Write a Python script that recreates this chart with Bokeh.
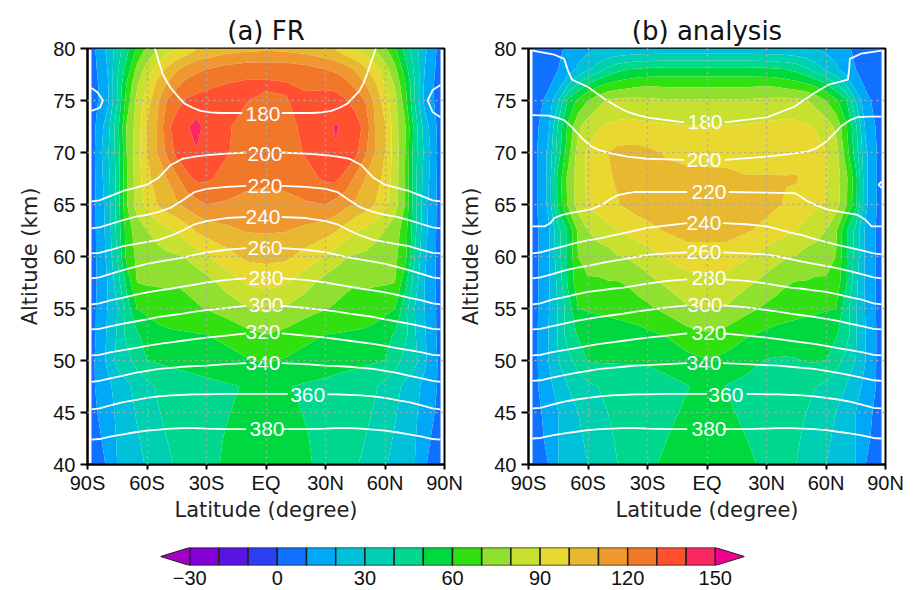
from bokeh.plotting import figure
from bokeh.layouts import column, row
from bokeh.models import FixedTicker, Range1d
from bokeh.embed import file_html
from bokeh.resources import INLINE
from bokeh.core.properties import value
import numpy as np

nan = float("nan")

LEVELS = [-40, -30, -20, -10, 0, 10, 20, 30, 40, 50, 60, 70, 80, 90, 100, 110, 120, 130, 140, 150, 160]
COLORS = ["#A400C4", "#8200D6", "#5A14E2", "#2A40F2", "#1070FF", "#00A8F8", "#00C0DA", "#00D0B2",
          "#00D88E", "#00D840", "#30E010", "#90E030", "#C8E030", "#E8D830", "#E8B830", "#F09830",
          "#F07828", "#FF5030", "#F82860", "#F00090"]

LATS = [-88, -80, -75, -70, -65, -60, -55, -50, -45, -40, -35, -30, -20, -10, 0,
        10, 20, 30, 35, 40, 45, 50, 55, 60, 65, 70, 75, 80, 88]
ALTS = [40, 42.5, 45, 47.5, 50, 52.5, 55, 57.5, 60, 62.5, 65, 67.5, 70, 72.5, 75, 76.5, 78, 80]

FR_WIND = [
    [3, 11, 20, 24, 27, 31, 34, 38, 41, 44, 46, 48, 51, 54, 56, 54, 51, 48, 46, 44, 41, 38, 34, 31, 27, 24, 20, 11, 3],
    [5, 13, 21, 25, 29, 33, 37, 40, 42, 44.5, 46, 47.5, 50.5, 53, 55, 53, 50.5, 47.5, 46, 44.5, 42, 40, 37, 33, 29, 25, 21, 13, 5],
    [7, 15, 22, 26, 31, 35, 39, 42, 44, 45, 46, 47, 49.5, 52, 54, 52, 49.5, 47, 46, 45, 44, 42, 39, 35, 31, 26, 22, 15, 7],
    [8, 17, 24, 28, 33, 37, 41, 43, 45, 46, 47, 48, 49, 50.5, 54, 50.5, 49, 48, 47, 46, 45, 43, 41, 37, 33, 28, 24, 17, 8],
    [7, 22, 33, 37, 44, 50, 51, 52, 52.5, 53, 53.5, 54, 56, 59, 61, 59, 56, 54, 53.5, 53, 52.5, 52, 51, 50, 44, 37, 33, 22, 7],
    [6, 21, 31, 43, 49, 53, 56, 58, 58.5, 59, 59.5, 60, 63, 67, 70, 67, 63, 60, 59.5, 59, 58.5, 58, 56, 53, 49, 43, 31, 21, 6],
    [6, 20, 30, 45, 60, 63, 65, 66, 67, 68, 69, 70.5, 74, 79, 82, 79, 74, 70.5, 69, 68, 67, 66, 65, 63, 60, 45, 30, 20, 6],
    [5, 20, 35, 54, 70, 71, 71, 71.5, 70.5, 71.5, 73.5, 76, 84, 91, 93, 91, 84, 76, 73.5, 71.5, 70.5, 71.5, 71, 71, 70, 54, 35, 20, 5],
    [5, 22, 40, 64, 72, 74, 76, 78, 79, 81, 85, 89.5, 96, 102, 103, 102, 96, 89.5, 85, 81, 79, 78, 76, 74, 72, 64, 40, 22, 5],
    [5, 23, 43, 65, 75, 80, 84, 88, 91, 96, 101, 104, 107.5, 110.5, 111, 110.5, 107.5, 104, 101, 96, 91, 88, 84, 80, 75, 65, 43, 23, 5],
    [5, 24, 44, 70, 84, 93, 100, 105, 108.5, 113, 116.5, 120, 119, 118, 118, 118, 119, 120, 116.5, 113, 108.5, 105, 100, 93, 84, 70, 44, 24, 5],
    [5, 26, 43, 70, 85, 97, 105, 110, 118, 127, 132, 132, 126, 122, 121, 122, 126, 132, 132, 127, 118, 110, 105, 97, 85, 70, 43, 26, 5],
    [5, 28, 44, 71, 85, 100, 110, 122, 133, 137.5, 139.5, 137, 131, 125, 124, 125, 131, 136, 139.3, 137, 133, 122, 110, 100, 85, 71, 44, 28, 5],
    [5, 25, 46, 72, 84, 101, 110, 127, 135, 139, 143, 137, 131.5, 126, 125, 126, 133, 137, 140.8, 138.5, 135, 127, 110, 101, 84, 72, 46, 25, 5],
    [5, 17, 40, 65, 83, 95, 108, 120, 126, 131, 133, 134, 133, 130.5, 127, 129.5, 133, 134, 134, 131, 126, 120, 108, 95, 83, 65, 40, 17, 5],
    [4, 18, 40, 62, 79, 90, 102, 111, 118, 124, 126, 128, 130.5, 132, 132, 131, 128, 128, 127, 124, 118, 111, 102, 90, 79, 62, 40, 18, 4],
    [5, 20, 38, 55, 73, 84, 94, 102, 109, 114, 118, 120, 124, 126, 126, 126, 124, 120, 118, 114, 109, 102, 94, 84, 73, 55, 38, 20, 5],
    [6, 22, 35, 47, 62, 72, 79, 85, 89, 93, 99, 101, 105, 107, 108, 107, 105, 101, 99, 93, 89, 85, 79, 72, 62, 47, 35, 22, 6],
]

ANALYSIS_WIND = [
    [4, 10, 20, 22, 26, 30, 34, 37, 40, 43, 45.5, 48, 52, 55, 56, 55, 52, 48, 45.5, 43, 40, 37, 34, 30, 26, 22, 20, 10, 4],
    [5, 12, 20, 23, 28, 32, 36, 38.5, 41, 43, 45, 47, 50, 53, 54.5, 53, 50, 47, 45, 43, 41, 38.5, 36, 32, 28, 23, 20, 12, 5],
    [6, 13, 20, 24, 30, 34, 38, 40, 42, 43, 44, 45, 48, 51.5, 53, 51.5, 48, 45, 44, 43, 42, 40, 38, 34, 30, 24, 20, 13, 6],
    [6, 17, 24, 30, 34, 38, 40, 42, 43, 44, 45, 46, 47.5, 49.5, 53, 49.5, 47.5, 46, 45, 44, 43, 42, 40, 38, 34, 30, 24, 17, 6],
    [5, 20, 30, 37, 44, 50.5, 51, 51, 51, 51, 51, 51, 53, 57, 59.5, 57, 53, 49.5, 49, 49, 49.5, 50.5, 51, 50, 44, 37, 30, 20, 5],
    [5, 20, 31, 45, 51, 52, 53, 53.5, 54.5, 55.5, 56.5, 58, 61, 66, 69, 66, 61, 58, 56.5, 55.5, 54.5, 53.5, 53, 52, 51, 45, 31, 20, 5],
    [5, 19, 31, 45, 60, 61, 62, 63, 64, 65, 66, 68, 73, 79, 81, 79, 73, 68, 66, 65, 64, 63, 62, 61, 60, 45, 31, 19, 5],
    [5, 18, 33, 52, 66, 69, 68.5, 69.5, 69.5, 71, 74, 77, 82, 86, 87, 86, 82, 77, 74, 71, 69.5, 69.5, 68.5, 69, 66, 52, 33, 18, 5],
    [5, 18, 36, 52, 70, 73, 75, 76, 79.5, 81, 83, 85.5, 91, 95, 95, 95, 91, 85.5, 83, 81, 79.5, 76, 75, 73, 70, 52, 36, 18, 5],
    [5, 18, 37, 52, 72, 80, 84, 87, 90, 92, 95, 97, 101, 104, 104, 104, 101, 97, 95, 92, 90, 87, 84, 80, 72, 52, 37, 18, 5],
    [5, 22, 53, 72, 84, 91, 94, 97, 99.5, 102, 104, 105, 107, 107, 107, 107, 106, 103, 101, 99, 96.5, 94, 91.5, 89.5, 84, 72, 53, 22, 5],
    [5, 22, 54, 73, 85, 92, 96, 99, 101, 103, 104, 104, 103, 102, 102, 102, 100.5, 100.5, 100.5, 100.5, 101, 96, 93, 91, 85, 73, 54, 22, 5],
    [5, 22, 45, 66, 84, 92, 96, 100, 102.5, 103, 103, 102, 99, 98, 97.5, 97, 97, 97, 97, 96, 95, 94, 93, 90.5, 84, 66, 45, 22, 5],
    [5, 18, 42, 62, 78, 85, 89, 91, 92.5, 93, 92.5, 92, 91, 90.5, 90.5, 90.5, 91, 92, 92.5, 93, 92.5, 91, 89, 85, 78, 62, 42, 18, 5],
    [4, 13, 30, 52, 62, 70, 76, 81, 82.5, 83, 82.5, 82, 81, 81, 81, 81, 81, 82, 82.5, 83, 82.5, 81, 76, 70, 62, 52, 30, 13, 4],
    [4, 8.5, 15, 30, 42, 52, 58, 62, 64.5, 66, 68, 69, 68, 68, 68, 68, 68, 69, 68, 66, 64.5, 62, 58, 52, 42, 30, 15, 8.5, 4],
    [4, 7, 10, 15, 22, 28, 35, 42, 47, 50, 51, 52, 53, 53, 53, 53, 53, 52, 51, 50, 47, 42, 35, 28, 22, 15, 10, 7, 4],
    [3, 6, 9, 11, 15, 18, 19, 20, 20.5, 21, 21.5, 22, 22, 22, 22, 22, 22, 22, 21.5, 21, 20.5, 20, 19, 18, 15, 11, 9, 6, 3],
]

# White temperature contours, (latitude, altitude); nan marks the gap for the label
ISO_LATS = [-88, -84, -78, -72, -66, -60, -54, -48, -42, -36, -30, -20, -10, nan,
            8, 20, 30, 36, 42, 48, 54, 60, 66, 72, 78, 84, 88]

FR_380 = [42.4, 42.45, 42.7, 42.9, 43.1, 43.25, 43.35, 43.45, 43.5, 43.5, 43.45, 43.4, 43.4, nan,
          43.4, 43.4, 43.45, 43.5, 43.5, 43.45, 43.35, 43.25, 43.1, 42.9, 42.7, 42.45, 42.4]
FR_340 = [47.95, 48.05, 48.3, 48.55, 48.8, 49.0, 49.2, 49.3, 49.4, 49.45, 49.5, 49.65, 49.75, nan,
          49.75, 49.65, 49.5, 49.45, 49.4, 49.3, 49.2, 49.0, 48.8, 48.55, 48.3, 48.05, 47.95]
FR_320 = [50.5, 50.55, 50.8, 51.0, 51.2, 51.4, 51.6, 51.75, 51.9, 52.05, 52.2, 52.4, 52.6, nan,
          52.6, 52.4, 52.2, 52.05, 51.9, 51.75, 51.6, 51.4, 51.2, 51.0, 50.8, 50.55, 50.5]
FR_300 = [53.0, 53.05, 53.3, 53.55, 53.75, 53.95, 54.2, 54.35, 54.5, 54.7, 54.85, 55.05, 55.25, nan,
          55.25, 55.05, 54.85, 54.7, 54.5, 54.35, 54.2, 53.95, 53.75, 53.55, 53.3, 53.05, 53.0]
FR_280 = [55.4, 55.5, 55.8, 56.05, 56.3, 56.55, 56.75, 56.9, 57.1, 57.3, 57.5, 57.75, 57.9, nan,
          57.9, 57.75, 57.5, 57.3, 57.1, 56.9, 56.75, 56.55, 56.3, 56.05, 55.8, 55.5, 55.4]
FR_260 = [57.9, 58.0, 58.35, 58.7, 59.0, 59.3, 59.5, 59.7, 59.9, 60.15, 60.4, 60.65, 60.8, nan,
          60.8, 60.65, 60.4, 60.15, 59.9, 59.7, 59.5, 59.3, 59.0, 58.7, 58.35, 58.0, 57.9]
FR_240 = [60.3, 60.35, 60.65, 61.0, 61.2, 61.4, 61.6, 62.0, 62.5, 63.1, 63.4, 63.7, 63.8, nan,
          63.8, 63.7, 63.4, 63.1, 62.5, 62.0, 61.6, 61.4, 61.2, 61.0, 60.65, 60.35, 60.3]
FR_220 = [62.7, 62.8, 63.15, 63.5, 63.8, 64.0, 64.3, 64.7, 65.4, 66.2, 66.5, 66.7, 66.8, nan,
          66.8, 66.7, 66.5, 66.2, 65.4, 64.7, 64.3, 64.0, 63.8, 63.5, 63.15, 62.8, 62.7]
FR_200 = [65.3, 65.4, 65.85, 66.3, 66.6, 66.9, 67.6, 68.8, 69.4, 69.6, 69.75, 69.9, 70.0, nan,
          70.0, 69.9, 69.75, 69.6, 69.4, 68.8, 67.6, 66.9, 66.6, 66.3, 65.85, 65.4, 65.3]

ISO360_FR_LATS = [-88, -84, -78, -72, -66, -60, -54, -48, -42, -36, -30, -20, -10, 0, 11, nan,
                  31, 36, 42, 48, 54, 60, 66, 72, 78, 84, 88]
FR_360 = [45.3, 45.4, 45.7, 46.0, 46.2, 46.4, 46.55, 46.65, 46.7, 46.75, 46.75, 46.8, 46.8, 46.8, 46.8, nan,
          46.75, 46.75, 46.7, 46.65, 46.55, 46.4, 46.2, 46.0, 45.7, 45.4, 45.3]

ISO180_FR_LATS = [-56, -54, -52, -50, -48, -44, -41, -37, -33, -28, -23, -12, nan,
                  8, 23, 28, 33, 37, 41, 44, 47, 49, 51, 53, 55.4]
FR_180 = [80, 78.7, 77.5, 76.8, 76.2, 75.3, 74.7, 74.3, 74.0, 73.85, 73.8, 73.8, nan,
          73.8, 73.8, 73.85, 74.0, 74.3, 74.7, 75.3, 75.9, 76.6, 77.6, 78.7, 80]

RING_L_LATS = [-88, -85, -82.2, -83.8, -88]
RING_L_ALTS = [76.2, 75.8, 75.0, 74.3, 74.0]
RING_R_LATS = [88, 84, 81.5, 84, 88]
RING_R_ALTS = [76.5, 76.0, 75.0, 73.9, 73.4]

AN_380 = [42.5, 42.55, 42.8, 43.0, 43.15, 43.3, 43.4, 43.45, 43.5, 43.5, 43.45, 43.4, 43.4, nan,
          43.4, 43.4, 43.45, 43.5, 43.5, 43.45, 43.4, 43.3, 43.15, 43.0, 42.8, 42.55, 42.5]
AN_340 = [48.05, 48.1, 48.35, 48.6, 48.8, 49.0, 49.2, 49.3, 49.4, 49.5, 49.55, 49.65, 49.75, nan,
          49.75, 49.65, 49.55, 49.5, 49.4, 49.3, 49.2, 49.0, 48.8, 48.6, 48.35, 48.1, 48.05]
AN_320 = [50.5, 50.55, 50.8, 51.0, 51.2, 51.4, 51.6, 51.75, 51.9, 52.05, 52.2, 52.4, 52.6, nan,
          52.6, 52.4, 52.2, 52.05, 51.9, 51.75, 51.6, 51.4, 51.2, 51.0, 50.8, 50.55, 50.5]
AN_300 = [53.0, 53.05, 53.3, 53.55, 53.8, 54.0, 54.2, 54.35, 54.5, 54.7, 54.85, 55.1, 55.3, nan,
          55.3, 55.1, 54.85, 54.7, 54.5, 54.35, 54.2, 54.0, 53.8, 53.55, 53.3, 53.05, 53.0]
AN_280 = [55.4, 55.5, 55.85, 56.1, 56.35, 56.6, 56.75, 56.9, 57.0, 57.2, 57.4, 57.65, 57.8, nan,
          57.8, 57.65, 57.4, 57.2, 57.0, 56.9, 56.75, 56.6, 56.35, 56.1, 55.85, 55.5, 55.4]
AN_260 = [57.9, 58.0, 58.3, 58.65, 58.9, 59.1, 59.35, 59.55, 59.75, 59.95, 60.15, 60.3, 60.4, nan,
          60.4, 60.3, 60.2, 60.0, 59.75, 59.5, 59.3, 59.1, 58.85, 58.6, 58.3, 58.0, 57.9]
AN_240 = [60.3, 60.4, 60.7, 61.0, 61.3, 61.55, 61.75, 62.0, 62.25, 62.5, 62.75, 63.0, 63.2, nan,
          63.2, 63.1, 62.9, 62.6, 62.3, 62.05, 61.7, 61.4, 61.1, 60.85, 60.6, 60.3, 60.2]

ISO220_AN_LATS = [-88, -82, -79, -77, -73, -68.5, -59, -55, -52, -48, -45, -40, -36.6, -10, nan,
                  11, 44, 47, 50, 54, 61, 70, 76, 80, 83, 88]
AN_220 = [62.9, 62.9, 63.2, 63.7, 64.0, 64.2, 64.5, 64.8, 65.1, 65.6, 65.9, 66.1, 66.2, 66.2, nan,
          66.2, 66.1, 65.8, 65.4, 65.0, 64.5, 64.2, 64.0, 63.5, 62.9, 62.9]
ISO200_AN_LATS = [-88, -80, -75, -72, -69, -65, -62, -58.5, -54, -48, -40, -30, -11.5, nan,
                  9, 30.5, 45, 51, 55, 59, 63, 67.5, 72, 76, 82, 88]
AN_200 = [73.6, 73.55, 73.3, 73.1, 72.6, 71.8, 71.2, 70.6, 70.2, 69.9, 69.6, 69.4, 69.3, nan,
          69.3, 69.6, 69.95, 70.1, 70.4, 70.9, 71.6, 72.5, 73.1, 73.4, 73.45, 73.45]
ISO180_AN_LATS = [-88, -77, -72, -71, -70, -68, -60, -52, -46, -40, -34, -28, -11.5, nan,
                  9, 30.5, 44, 54, 61, 71, 71.7, 72, 77.6, 88]
AN_180 = [79.8, 79.4, 79.0, 78.4, 77.8, 77.0, 76.3, 75.2, 74.5, 73.9, 73.55, 73.3, 72.9, nan,
          72.9, 73.4, 74.4, 75.7, 76.5, 77.0, 78.0, 79.0, 79.5, 79.8]

ISO360_AN_LATS = [-88, -84, -78, -72, -66, -60, -54, -48, -42, -36, -30, -20, -10, 0, nan,
                  20, 30, 36, 42, 48, 54, 60, 66, 72, 78, 84, 88]
AN_360 = [45.4, 45.45, 45.75, 46.05, 46.25, 46.4, 46.55, 46.65, 46.7, 46.75, 46.75, 46.8, 46.8, 46.8, nan,
          46.8, 46.75, 46.75, 46.7, 46.65, 46.55, 46.4, 46.25, 46.05, 45.75, 45.45, 45.4]

SPOT_LATS = [88, 86.5, 88]
SPOT_ALTS = [67.2, 66.9, 66.6]

FR_LABELS = ["180", "200", "220", "240", "260", "280", "300", "320", "340", "360", "380"]
FR_LAB_LAT = [-1.5, -0.5, -0.5, -1.5, -0.5, 0, 0, -1.5, -1.5, 21, 0.5]
FR_LAB_ALT = [73.7, 69.9, 66.8, 63.8, 60.8, 57.9, 55.3, 52.7, 49.8, 46.7, 43.4]
AN_LABELS = FR_LABELS
AN_LAB_LAT = [-1, -1.5, 1, -1.5, -1.5, 1, -1, 1, -1.5, 9.5, 1]
AN_LAB_ALT = [72.9, 69.3, 66.2, 63.2, 60.4, 57.9, 55.3, 52.6, 49.8, 46.7, 43.4]

LAT_TICKS = [-90, -60, -30, 0, 30, 60, 90]
LAT_LABELS = ["90S", "60S", "30S", "EQ", "30N", "60N", "90N"]
ALT_TICKS = [40, 45, 50, 55, 60, 65, 70, 75, 80]
BAR_TICKS = [-30, 0, 30, 60, 90, 120, 150]
BAR_LABELS = ["\u221230", "0", "30", "60", "90", "120", "150"]

TICK_FONT = "Liberation Sans"
LABEL_FONT = "DejaVu Sans"


def panel(title, wind, lines, lab_lat, lab_alt, labels, border_left, border_right):
    p = figure(width=border_left + 357 + border_right, height=524, output_backend="svg",
               toolbar_location=None, x_range=Range1d(-90, 90), y_range=Range1d(40, 80),
               min_border_left=border_left, min_border_right=border_right,
               min_border_top=48, min_border_bottom=60, title=title)
    p.border_fill_color = None
    p.background_fill_color = "white"
    p.title.text_font = LABEL_FONT
    p.title.text_font_size = "26px"
    p.title.text_font_style = "normal"
    p.title.align = "center"
    p.title.text_color = "#111111"
    p.title.standoff = 6
    p.contour(LATS, ALTS, np.array(wind, dtype=float), LEVELS, fill_color=COLORS)
    for lat, alt in lines:
        p.line(lat, alt, line_color="white", line_width=1.8)
    p.text(lab_lat, lab_alt, text=labels, text_color="white", text_align="center",
           text_baseline="middle", text_font=value(TICK_FONT), text_font_size="21px")
    p.xaxis.ticker = FixedTicker(ticks=LAT_TICKS)
    p.xaxis.major_label_overrides = dict(zip(LAT_TICKS, LAT_LABELS))
    p.yaxis.ticker = FixedTicker(ticks=ALT_TICKS)
    p.xaxis.axis_label = "Latitude (degree)"
    p.yaxis.axis_label = "Altitude (km)"
    for ax in (p.xaxis[0], p.yaxis[0]):
        ax.axis_label_text_font = LABEL_FONT
        ax.axis_label_text_font_size = "21px"
        ax.axis_label_text_font_style = "normal"
        ax.axis_label_text_color = "#222222"
        ax.major_label_text_font = TICK_FONT
        ax.major_label_text_font_size = "20px"
        ax.major_label_text_color = "#111111"
        ax.major_tick_out = 7
        ax.major_tick_in = 0
        ax.minor_tick_out = 0
        ax.minor_tick_in = 0
        ax.major_tick_line_color = "black"
        ax.major_tick_line_width = 2
        ax.axis_line_color = "black"
        ax.axis_line_width = 2
    p.xaxis.major_tick_out = 5
    p.xaxis.major_label_standoff = 2
    p.xaxis.axis_label_standoff = 1
    p.yaxis.major_label_standoff = 5
    p.yaxis.axis_label_standoff = 8
    p.yaxis.major_label_orientation = "horizontal"
    p.outline_line_color = "black"
    p.outline_line_width = 2
    p.outline_line_alpha = 1
    p.grid.level = "overlay"
    p.grid.grid_line_color = "#a8a8a8"
    p.grid.grid_line_dash = "2 4"
    p.grid.grid_line_width = 1.5
    p.xgrid.ticker = FixedTicker(ticks=[-60, -30, 0, 30, 60])
    p.ygrid.ticker = FixedTicker(ticks=[45, 50, 55, 60, 65, 70, 75])
    return p


fr_lines = [
    (ISO_LATS, FR_380), (ISO360_FR_LATS, FR_360), (ISO_LATS, FR_340), (ISO_LATS, FR_320), (ISO_LATS, FR_300),
    (ISO_LATS, FR_280), (ISO_LATS, FR_260), (ISO_LATS, FR_240), (ISO_LATS, FR_220), (ISO_LATS, FR_200),
    (ISO180_FR_LATS, FR_180), (RING_L_LATS, RING_L_ALTS), (RING_R_LATS, RING_R_ALTS),
]
an_lines = [
    (ISO_LATS, AN_380), (ISO360_AN_LATS, AN_360), (ISO_LATS, AN_340), (ISO_LATS, AN_320), (ISO_LATS, AN_300),
    (ISO_LATS, AN_280), (ISO_LATS, AN_260), (ISO_LATS, AN_240), (ISO220_AN_LATS, AN_220),
    (ISO200_AN_LATS, AN_200), (ISO180_AN_LATS, AN_180), (SPOT_LATS, SPOT_ALTS),
]

p1 = panel("(a) FR", FR_WIND, fr_lines, FR_LAB_LAT, FR_LAB_ALT, FR_LABELS, 87, 19)
p2 = panel("(b) analysis", ANALYSIS_WIND, an_lines, AN_LAB_LAT, AN_LAB_ALT, AN_LABELS, 73, 30)
p2.margin = (0, 0, 0, -8)

bar = figure(width=915, height=66, output_backend="svg", toolbar_location=None,
             x_range=Range1d(LEVELS[0], LEVELS[-1]), y_range=Range1d(0, 1),
             min_border_left=160, min_border_right=171, min_border_top=23, min_border_bottom=25)
bar.quad(left=LEVELS[1:-2], right=LEVELS[2:-1], bottom=0, top=1, fill_color=COLORS[1:-1],
         line_color="#222222", line_width=1.5)
bar.patch([LEVELS[1], LEVELS[0], LEVELS[1]], [0, 0.5, 1], fill_color=COLORS[0], line_color="#222222", line_width=1)
bar.patch([LEVELS[-2], LEVELS[-1], LEVELS[-2]], [0, 0.5, 1], fill_color=COLORS[-1], line_color="#222222", line_width=1)
bar.xaxis.ticker = FixedTicker(ticks=BAR_TICKS)
bar.xaxis.major_label_overrides = dict(zip(BAR_TICKS, BAR_LABELS))
bar.xaxis.major_label_text_font = TICK_FONT
bar.xaxis.major_label_text_font_size = "20px"
bar.xaxis.major_label_text_color = "#111111"
bar.xaxis.major_label_standoff = 5
bar.xaxis.major_tick_out = 0
bar.xaxis.axis_line_color = None
bar.xaxis.major_tick_line_color = None
bar.xaxis.minor_tick_line_color = None
bar.yaxis.visible = False
bar.grid.visible = False
bar.outline_line_color = None

layout = column(row(p1, p2), bar)
open("out.html", "w").write(file_html(layout, INLINE))
